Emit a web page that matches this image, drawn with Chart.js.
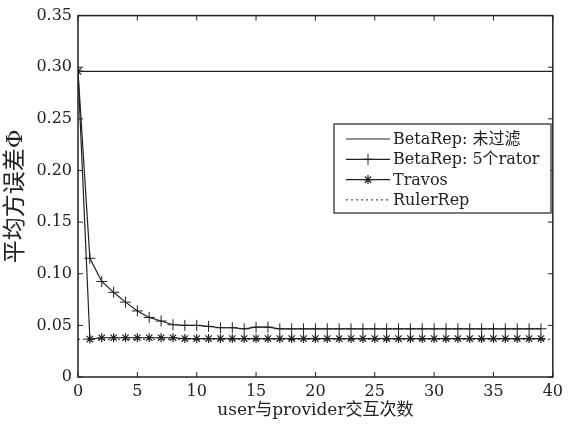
<!DOCTYPE html>
<html>
<head>
<meta charset="utf-8">
<script src="https://cdn.jsdelivr.net/npm/chart.js@4"></script>
<style>
  html, body { margin: 0; padding: 0; background: #fff; }
</style>
</head>
<body>
<canvas id="errChart" width="568" height="425"></canvas>
<script>
// values
const steps = [0,1,2,3,4,5,6,7,8,9,10,11,12,13,14,15,16,17,18,19,20,21,22,23,24,25,26,27,28,29,30,31,32,33,34,35,36,37,38,39];
const rator5 = [0.296,0.115,0.0925,0.082,0.0725,0.064,0.0577,0.0542,0.0506,0.050,0.050,0.049,0.0477,0.0477,0.0467,0.0483,0.0483,0.0467,0.0467,0.0467,
                0.0467,0.0467,0.0467,0.0467,0.0467,0.0467,0.0467,0.0467,0.0467,0.0467,0.0467,0.0467,0.0467,0.0467,0.0467,0.0467,0.0467,0.0467,0.0467,0.0467];
const travos = [0.296,0.0367,0.038,0.038,0.038,0.038,0.038,0.038,0.038,0.0372,0.0372,0.0372,0.0372,0.0372,0.0372,0.0372,0.0372,0.0372,0.0372,0.0372,
                0.0372,0.0372,0.0372,0.0372,0.0372,0.0372,0.0372,0.0372,0.0372,0.0372,0.0372,0.0372,0.0372,0.0372,0.0372,0.0372,0.0372,0.0372,0.0372,0.0372];
const flatX = [0, 40];
const unfiltered = [0.296, 0.296];
const rulerRep = [0.0365, 0.0365];
const seriesNames = ['BetaRep: 未过滤', 'BetaRep: 5个rator', 'Travos', 'RulerRep'];
const xTitle = 'user与provider交互次数';
const yTitle = '平均方误差Φ';

const FONT = "'DejaVu Serif', 'Noto Sans CJK SC', serif";
const INK = '#222';

const pairs = (xs, ys) => xs.map((x, i) => ({ x, y: ys[i] }));

// frame, inward ticks and the boxed legend inside the plot
const frameAndLegend = {
  id: 'frameAndLegend',
  afterDatasetsDraw(chart) {
    const { ctx, chartArea: a, scales: { x, y } } = chart;
    const seg = (x1, y1, x2, y2) => { ctx.beginPath(); ctx.moveTo(x1, y1); ctx.lineTo(x2, y2); ctx.stroke(); };
    ctx.save();
    ctx.strokeStyle = INK;
    ctx.lineWidth = 1.5;
    ctx.strokeRect(a.left, a.top, a.right - a.left, a.bottom - a.top);
    ctx.lineWidth = 1;
    x.ticks.forEach(t => {
      const px = x.getPixelForValue(t.value);
      seg(px, a.bottom, px, a.bottom - 5);
      seg(px, a.top, px, a.top + 5);
    });
    y.ticks.forEach(t => {
      const py = y.getPixelForValue(t.value);
      seg(a.left, py, a.left + 5, py);
      seg(a.right, py, a.right - 5, py);
    });

    // legend
    const box = { left: 334, top: 124, width: 217, height: 89 };
    ctx.fillStyle = '#fff';
    ctx.fillRect(box.left, box.top, box.width, box.height);
    ctx.lineWidth = 1.2;
    ctx.strokeRect(box.left, box.top, box.width, box.height);
    ctx.font = '16px ' + FONT;
    ctx.textBaseline = 'middle';
    chart.data.datasets.forEach((ds, i) => {
      const rowY = box.top + 15 + i * 20.3;
      ctx.strokeStyle = ds.borderColor;
      ctx.lineWidth = ds.borderWidth;
      ctx.setLineDash(ds.borderDash || []);
      seg(box.left + 12, rowY, box.left + 56, rowY);
      ctx.setLineDash([]);
      if (ds.pointRadius > 0) {
        ctx.lineWidth = ds.pointBorderWidth;
        Chart.helpers.drawPoint(ctx, { pointStyle: ds.pointStyle, radius: ds.pointRadius, rotation: 0, borderWidth: ds.pointBorderWidth }, box.left + 34, rowY);
      }
      ctx.fillStyle = INK;
      ctx.fillText(ds.label, box.left + 59, rowY + 1);
    });
    ctx.restore();
  }
};

new Chart(document.getElementById('errChart'), {
  type: 'line',
  data: {
    datasets: [
      { label: seriesNames[0], data: pairs(flatX, unfiltered), borderColor: INK, borderWidth: 1.2, pointRadius: 0 },
      { label: seriesNames[1], data: pairs(steps, rator5), borderColor: INK, borderWidth: 1.2,
        pointStyle: 'cross', pointRadius: 5.5, pointBorderWidth: 1, pointBorderColor: INK },
      { label: seriesNames[2], data: pairs(steps, travos), borderColor: INK, borderWidth: 1.2,
        pointStyle: 'star', pointRadius: 4.5, pointBorderWidth: 1.2, pointBorderColor: INK },
      { label: seriesNames[3], data: pairs(flatX, rulerRep), borderColor: INK, borderWidth: 1, borderDash: [2, 3], pointRadius: 0 }
    ]
  },
  options: {
    responsive: false,
    animation: false,
    devicePixelRatio: 1,
    layout: { padding: { top: 15, right: 11, left: 0, bottom: 0 } },
    elements: { line: { tension: 0, fill: false } },
    scales: {
      x: {
        type: 'linear', min: 0, max: 40,
        grid: { display: false, drawTicks: false }, border: { display: false },
        ticks: { stepSize: 5, color: INK, padding: 5, font: { family: FONT, size: 16 }, maxRotation: 0 },
        title: { display: true, text: xTitle, color: INK, font: { family: FONT, size: 17 }, padding: { top: 0, bottom: 4 } },
        afterFit: s => { s.height = 48; }
      },
      y: {
        type: 'linear', min: 0, max: 0.35,
        grid: { display: false, drawTicks: false }, border: { display: false },
        ticks: { stepSize: 0.05, color: INK, padding: 6, font: { family: FONT, size: 16 },
                 callback: v => v === 0 ? '0' : v.toFixed(2) },
        title: { display: true, text: yTitle, color: INK, font: { family: FONT, size: 23 }, padding: { top: 2, bottom: 0 } },
        afterFit: s => { s.width = 78; }
      }
    },
    plugins: {
      legend: { display: false },
      tooltip: { enabled: false }
    }
  },
  plugins: [frameAndLegend]
});
</script>
</body>
</html>
